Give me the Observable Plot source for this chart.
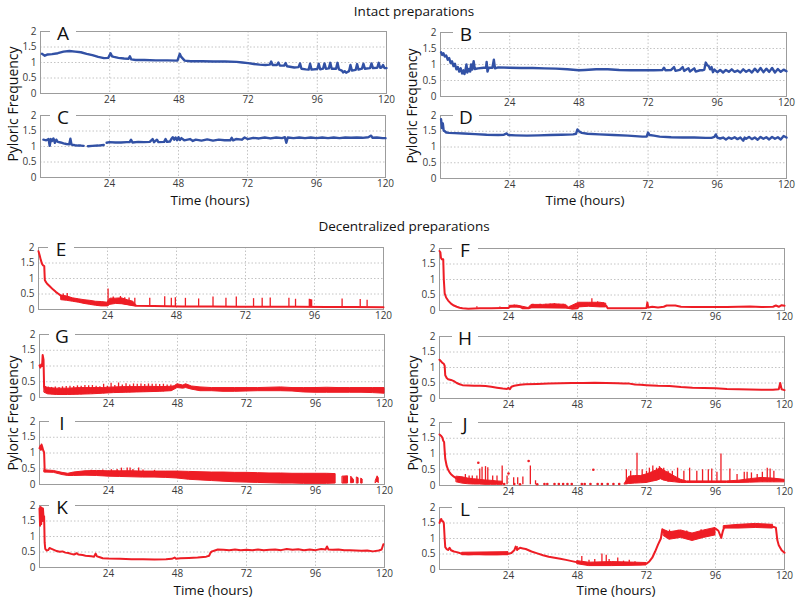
<!DOCTYPE html>
<html><head><meta charset="utf-8">
<script src="https://cdn.jsdelivr.net/npm/d3@7"></script>
<script src="https://cdn.jsdelivr.net/npm/@observablehq/plot@0.6"></script>
<style>
body{margin:0;background:#fff;}
#fig{position:relative;width:800px;height:605px;font-family:"Open Sans",sans-serif;overflow:hidden;background:#fff}
#fig svg{position:absolute;overflow:visible}
.title{position:absolute;font-size:13.5px;line-height:16px;color:#111;transform:translateX(-50%);white-space:nowrap}
.ylab{position:absolute;font-size:14px;line-height:16px;color:#111;transform:translate(-50%,-50%) rotate(-90deg);white-space:nowrap}
.letter{position:absolute;background:#fff;font-size:19px;color:#111;text-align:center;width:26px;height:19px;line-height:19px}
</style>
</head><body><div id="fig"></div>
<script>
// ---------- tick labels ----------
const xTicks = [24, 48, 72, 96, 120];
const yTicks = [0, 0.5, 1, 1.5, 2];
const xGrid = [24, 48, 72, 96];
const yGrid = [0.5, 1, 1.5];
const panelLetters = ["A","B","C","D","E","F","G","H","I","J","K","L"];

// ---------- intact preparations (hours, frequency) ----------
const seriesA = [[0.5,1.28],[1.5,1.22],[2.5,1.26],[4,1.27],[6,1.3],[8,1.35],[10,1.37],[12,1.35],[14,1.33],[16,1.28],[18,1.24],[20,1.18],[22,1.14],[23.5,1.15],[24.3,1.3],[24.8,1.2],[25.5,1.18],[27,1.15],[29,1.13],[30.5,1.12],[31,1.2],[31.5,1.1],[33,1.08],[36,1.08],[40,1.07],[44,1.07],[47.5,1.06],[48.3,1.28],[48.8,1.18],[50,1.06],[52,1.04],[56,1.04],[60,1.03],[64,1.03],[68,1.02],[70,1.0],[72,0.98],[74,0.95],[76,0.93],[78,0.92],[79.5,0.93],[80,1.03],[80.5,0.92],[82,0.92],[82.5,1.0],[83,0.9],[84.5,0.9],[85,0.98],[85.5,0.88],[88,0.84],[89.5,0.85],[90,0.97],[90.5,0.8],[92,0.78],[93,0.77],[93.5,0.96],[94,0.77],[96,0.79],[96.5,0.96],[97,0.78],[98,0.8],[98.5,0.97],[99,0.8],[100,0.81],[100.5,0.99],[101,0.8],[102.5,0.8],[103,0.99],[103.5,0.78],[104.5,0.74],[105,0.68],[105.5,0.72],[106,0.67],[107,0.72],[107.5,0.92],[108,0.74],[109.3,0.76],[109.8,0.95],[110.3,0.77],[111.5,0.8],[112,0.96],[112.5,0.8],[114.3,0.82],[114.8,0.97],[115.3,0.82],[116.8,0.83],[117.3,0.99],[117.8,0.83],[118.3,0.84],[118.8,0.92],[119.3,0.82],[120,0.82]];
const seriesB = [[0.2,1.38],[0.6,1.3],[1,1.35],[1.5,1.25],[2,1.28],[2.5,1.15],[3,1.2],[3.5,1.05],[4,1.1],[4.5,0.95],[5,1.02],[5.5,0.85],[6,0.92],[6.5,0.78],[7,0.88],[7.5,0.72],[8,0.82],[8.3,0.7],[8.7,0.85],[9,1.0],[9.3,0.75],[9.8,0.86],[10.3,0.78],[10.6,1.0],[11,0.84],[11.5,1.1],[11.9,0.86],[13,0.88],[15,0.9],[15.8,0.9],[16,1.08],[16.3,0.78],[16.7,0.9],[18,0.9],[18.5,1.15],[18.9,0.88],[20,0.91],[24,0.9],[28,0.89],[32,0.89],[36,0.88],[40,0.87],[44,0.85],[48,0.82],[50,0.83],[54,0.85],[58,0.85],[62,0.83],[66,0.82],[70,0.82],[74,0.82],[77,0.83],[77.5,0.9],[78,0.82],[80,0.83],[81,0.92],[81.5,0.8],[83,0.83],[84,0.92],[84.5,0.8],[86,0.88],[86.5,0.78],[88,0.88],[88.5,0.78],[90,0.82],[91,0.82],[91.5,0.84],[92,1.06],[92.5,0.98],[93,0.95],[93.5,0.85],[94,0.92],[94.5,0.76],[95,0.84],[96,0.76],[97,0.83],[98,0.75],[99,0.83],[100,0.77],[101,0.85],[102,0.77],[103,0.81],[104,0.75],[105,0.85],[106,0.77],[107,0.83],[108,0.75],[109,0.87],[110,0.77],[111,0.89],[112,0.76],[113,0.87],[114,0.77],[115,0.89],[116,0.75],[117,0.86],[118,0.77],[119,0.84],[120,0.79]];
const seriesC = [[1,1.22],[2,1.2],[2.8,1.24],[3.2,1.02],[3.6,1.24],[4,1.18],[4.5,1.26],[5,1.12],[5.5,1.22],[6,1.15],[7,1.13],[8,1.1],[9,1.08],[10,1.07],[10.4,1.25],[10.8,1.06],[12,1.04],[13,1.03],[14,1.03],[15,1.02],[15.5,NaN],[16.5,1.01],[18,1.02],[20,1.03],[22,1.05],[22.5,NaN],[23,1.12],[24,1.14],[26,1.13],[28,1.13],[30,1.14],[31,1.14],[31.5,1.22],[32,1.13],[34,1.15],[36,1.14],[38,1.15],[39,1.24],[39.5,1.14],[40.5,1.22],[41,1.14],[43,1.15],[43.5,1.24],[44,1.15],[45,1.16],[45.5,1.24],[46,1.3],[46.5,1.22],[47,1.29],[47.5,1.2],[48,1.3],[48.5,1.21],[49,1.27],[50,1.2],[52,1.24],[53,1.18],[54,1.22],[56,1.19],[58,1.23],[60,1.19],[62,1.22],[64,1.2],[66,1.2],[66.5,1.28],[67,1.2],[68,1.24],[70,1.22],[71,1.29],[72,1.24],[74,1.28],[76,1.26],[78,1.29],[80,1.26],[82,1.29],[84,1.27],[85,1.3],[85.5,1.12],[86,1.29],[88,1.27],[90,1.29],[92,1.27],[94,1.29],[96,1.27],[98,1.29],[100,1.27],[102,1.29],[104,1.27],[106,1.29],[108,1.28],[110,1.29],[112,1.28],[114,1.3],[115,1.35],[115.5,1.28],[117,1.29],[119,1.27],[120,1.27]];
const seriesD = [[0.2,1.88],[0.5,1.6],[0.8,1.75],[1.1,1.52],[1.5,1.5],[2,1.46],[3,1.45],[5,1.44],[8,1.43],[12,1.41],[16,1.39],[20,1.38],[22,1.39],[23,1.43],[23.5,1.38],[26,1.37],[30,1.36],[34,1.37],[38,1.38],[42,1.39],[46,1.4],[47,1.42],[47.5,1.56],[48,1.5],[49,1.45],[51,1.42],[55,1.4],[60,1.38],[65,1.36],[70,1.33],[71.5,1.33],[72,1.46],[72.5,1.38],[74,1.36],[76,1.33],[80,1.31],[84,1.3],[88,1.3],[92,1.29],[94,1.29],[95,1.32],[95.5,1.4],[96,1.3],[97,1.27],[98,1.3],[99,1.24],[100,1.3],[101,1.26],[102,1.31],[103,1.25],[104,1.3],[105,1.2],[105.5,1.3],[106,1.26],[107,1.32],[108,1.25],[109,1.3],[110,1.23],[111,1.32],[112,1.26],[113,1.31],[114,1.24],[115,1.32],[116,1.26],[117,1.31],[118,1.24],[119,1.35],[120,1.3]];

// ---------- decentralized preparations ----------
// line: [hours, frequency]; band: [hours, low, high]; spikes: [hours, low, high]; dots: [hours, frequency]
const seriesE = [[0,1.88],[0.4,1.75],[0.8,1.6],[1.2,1.48],[1.6,1.42],[2,1.4],[2.2,0.95],[2.6,0.88],[3,0.83],[4,0.74],[5,0.65],[6,0.57],[7,0.5],[8,0.43],[9,0.38],[10,0.36],[12,0.32],[14,0.28],[16,0.24],[18,0.2],[20,0.18],[22,0.16],[23.5,0.16],[24,0.14],[24.5,0.2],[26,0.25],[28,0.24],[30,0.2],[32,0.15],[34,0.12],[40,0.11],[50,0.1],[60,0.1],[70,0.09],[80,0.09],[90,0.09],[100,0.08],[110,0.08],[120,0.07]];
const bandE = [[8,0.3,0.45],[10,0.28,0.42],[12,0.25,0.36],[14,0.22,0.33],[16,0.18,0.3],[18,0.15,0.28],[20,0.12,0.25],[22,0.1,0.24],[24,0.1,0.22],[25,0.15,0.35],[27,0.18,0.35],[29,0.17,0.36],[31,0.14,0.3],[33,0.12,0.25],[34,0.1,0.14]];
const spikesE = [[8.6,0.35,0.5],[10,0.32,0.52],[24.2,0.14,0.66],[26,0.25,0.4],[28.5,0.24,0.42],[30,0.2,0.38],[31.5,0.17,0.37],[33.5,0.12,0.36],[38.7,0.11,0.36],[43.9,0.1,0.41],[46.2,0.1,0.36],[47.6,0.1,0.38],[51.1,0.1,0.36],[55.7,0.1,0.34],[60.7,0.1,0.4],[65.2,0.1,0.36],[68.8,0.09,0.4],[74.8,0.09,0.35],[77.8,0.09,0.36],[80.6,0.09,0.37],[87.1,0.09,0.36],[89.4,0.09,0.33],[94.2,0.09,0.33],[94.6,0.09,0.32],[95,0.09,0.31],[105.6,0.08,0.34],[111.9,0.08,0.32],[114.3,0.08,0.3]];

const seriesF = [[0,1.92],[0.3,1.88],[0.5,1.7],[0.8,1.65],[1.3,1.65],[1.5,1.0],[1.8,0.55],[2.3,0.42],[3,0.32],[4,0.22],[5,0.16],[6,0.12],[7,0.09],[8,0.07],[10,0.06],[14,0.07],[18,0.07],[22,0.08],[24,0.08],[24.5,0.12],[26,0.14],[28,0.12],[29,0.07],[31,0.07],[32,0.12],[44,0.1],[46,0.06],[48,0.07],[48.5,0.15],[50,0.18],[52,0.2],[54,0.2],[56,0.18],[58,0.15],[58.5,0.07],[62,0.07],[66,0.07],[70,0.07],[72,0.08],[72.3,0.26],[72.6,0.1],[74,0.12],[76,0.1],[78,0.12],[79,0.16],[82,0.16],[84,0.12],[88,0.11],[92,0.11],[96,0.11],[100,0.11],[104,0.12],[108,0.13],[112,0.11],[116,0.12],[117,0.16],[118,0.12],[119,0.17],[120,0.15]];
const bandF = [[24.5,0.1,0.15],[27,0.1,0.16],[29,0.08,0.12],[31,0.07,0.08],[32,0.07,0.18],[36,0.07,0.18],[40,0.07,0.2],[44,0.07,0.18],[45,0.06,0.1],[48.5,0.1,0.25],[52,0.12,0.25],[56,0.1,0.25],[58,0.1,0.22]];
const spikesF = [[13,0.07,0.12],[21,0.08,0.11],[26,0.12,0.18],[32.5,0.1,0.2],[35,0.08,0.2],[37,0.08,0.2],[38.5,0.08,0.21],[40,0.08,0.22],[41.5,0.08,0.2],[43,0.08,0.2],[53,0.18,0.38],[55,0.15,0.28],[57,0.12,0.25]];

const seriesG = [[0,1.02],[0.3,0.95],[0.6,1.05],[0.9,1.0],[1.1,1.35],[1.4,1.2],[1.6,0.35],[2,0.25],[3,0.2]];
const bandG = [[1.8,0.15,0.35],[3,0.1,0.3],[6,0.08,0.28],[10,0.08,0.28],[14,0.09,0.3],[18,0.1,0.3],[22,0.12,0.3],[26,0.14,0.32],[30,0.15,0.33],[34,0.16,0.33],[38,0.17,0.34],[42,0.18,0.33],[46,0.2,0.34],[47,0.25,0.36],[48,0.3,0.42],[50,0.28,0.38],[51,0.3,0.42],[53,0.25,0.35],[56,0.2,0.32],[60,0.2,0.3],[64,0.18,0.3],[68,0.18,0.3],[72,0.19,0.3],[76,0.2,0.3],[80,0.2,0.31],[84,0.2,0.32],[88,0.19,0.3],[92,0.16,0.3],[96,0.15,0.3],[100,0.15,0.31],[104,0.15,0.3],[108,0.15,0.3],[112,0.15,0.3],[116,0.14,0.3],[120,0.12,0.3]];
const spikesG = [[3,0.1,0.33],[4.2,0.09,0.32],[5.5,0.09,0.33],[6.8,0.08,0.32],[8,0.08,0.34],[9.3,0.08,0.35],[10.6,0.08,0.36],[11.9,0.09,0.35],[13.2,0.09,0.37],[14.5,0.09,0.36],[15.8,0.1,0.38],[17.1,0.1,0.37],[18.4,0.1,0.38],[19.7,0.11,0.36],[21,0.12,0.34],[22.3,0.12,0.42],[23.6,0.13,0.36],[24.9,0.13,0.45],[26.2,0.14,0.38],[27.5,0.14,0.46],[28.8,0.15,0.4],[30.1,0.15,0.44],[31.4,0.15,0.4],[32.7,0.16,0.43],[34,0.16,0.42],[35.3,0.16,0.43],[36.6,0.17,0.41],[37.9,0.17,0.43],[39.2,0.17,0.42],[40.5,0.18,0.42],[41.8,0.18,0.41],[43.1,0.18,0.42],[44.4,0.19,0.4],[45.7,0.2,0.4]];

const seriesH = [[0,1.25],[0.5,1.2],[1,1.15],[1.5,1.12],[1.8,1.05],[2,0.75],[2.5,0.66],[3,0.62],[4,0.6],[5,0.56],[6,0.5],[7,0.46],[8,0.43],[10,0.42],[12,0.41],[14,0.41],[16,0.4],[18,0.38],[20,0.35],[22,0.32],[23.5,0.31],[24,0.34],[24.5,0.3],[25,0.38],[26,0.41],[28,0.44],[30,0.46],[34,0.47],[38,0.48],[42,0.49],[46,0.5],[50,0.5],[54,0.51],[58,0.5],[62,0.49],[64,0.48],[66,0.48],[68,0.45],[70,0.44],[72,0.43],[76,0.41],[80,0.4],[84,0.37],[88,0.35],[92,0.34],[96,0.33],[100,0.31],[104,0.3],[108,0.29],[112,0.28],[116,0.28],[118,0.3],[118.5,0.5],[119,0.3],[120,0.27]];

const seriesI = [[0,1.15],[0.3,1.22],[0.5,1.1],[0.7,1.27],[1,1.18],[1.3,1.08],[1.6,1.02],[1.8,0.45],[2,0.42]];
const bandI = [[1.8,0.38,0.45],[5,0.37,0.43],[8,0.3,0.37],[10,0.27,0.34],[12,0.27,0.38],[16,0.28,0.42],[20,0.27,0.43],[24,0.25,0.42],[28,0.24,0.42],[32,0.23,0.42],[36,0.22,0.41],[40,0.22,0.41],[44,0.21,0.41],[48,0.19,0.41],[52,0.15,0.4],[56,0.13,0.39],[60,0.11,0.38],[64,0.09,0.38],[68,0.07,0.37],[72,0.06,0.37],[76,0.05,0.36],[80,0.04,0.35],[84,0.03,0.35],[88,0.03,0.34],[92,0.02,0.34],[96,0.02,0.34],[100,0.02,0.34],[103,0.03,0.33],[103.2,NaN,NaN],[105.5,0.03,0.25],[107.3,0.03,0.26],[107.5,NaN,NaN],[108.5,0.04,0.24],[109.4,0.05,0.14],[109.6,NaN,NaN],[110.5,0.03,0.22],[111,0.03,0.2],[111.2,NaN,NaN],[112,0.03,0.18],[112.4,0.03,0.16],[112.6,NaN,NaN],[117,0.04,0.12],[117.6,0.1,0.26],[118,0.04,0.2],[118.3,NaN,NaN]];
const spikesI = [[18,0.4,0.45],[22,0.4,0.46],[25,0.4,0.47],[27,0.4,0.48],[28.5,0.4,0.52],[30.5,0.4,0.52],[31.5,0.4,0.52],[32.5,0.4,0.48],[34.5,0.4,0.52],[36,0.4,0.46],[40,0.4,0.45]];

const seriesJ = [[0,1.62],[0.5,1.58],[1,1.52],[1.3,1.42],[1.6,1.38],[1.8,1.1],[2,0.85],[2.5,0.62],[3,0.5],[3.5,0.42],[4,0.36],[5,0.28],[6,0.22]];
const bandJ = [[6,0.1,0.28],[8,0.06,0.26],[10,0.04,0.22],[12,0.03,0.2],[14,0.03,0.18],[16,0.02,0.16],[18,0.02,0.15],[20,0.02,0.13],[22,0.02,0.12],[22.3,NaN,NaN],[64.5,0.03,0.06],[66,0.05,0.28],[68,0.06,0.3],[70,0.07,0.3],[72,0.08,0.35],[74,0.12,0.42],[76,0.16,0.5],[77,0.2,0.55],[78,0.16,0.48],[80,0.12,0.38],[82,0.1,0.28],[84,0.08,0.18],[86,0.08,0.13],[100,0.08,0.13],[104,0.08,0.15],[108,0.09,0.2],[112,0.1,0.24],[116,0.1,0.22],[120,0.1,0.18]];
const spikesJ = [[9,0.05,0.35],[10.3,0.05,0.3],[11.4,0.04,0.3],[13,0.04,0.3],[14,0.03,0.52],[14.8,0.03,0.58],[16,0.03,0.6],[16.8,0.03,0.56],[18.5,0.03,0.3],[20,0.02,0.3],[21.8,0.02,0.62],[23.5,0.02,0.3],[25.8,0.02,0.25],[27.2,0.02,0.25],[29,0.02,0.27],[31.6,0.02,0.62],[33.4,0.02,0.15],[65,0.03,0.5],[66.5,0.05,0.45],[68.7,0.08,1.02],[70.5,0.08,0.5],[72,0.1,0.45],[73,0.1,0.55],[74.2,0.15,0.62],[75.5,0.15,0.55],[76.5,0.2,0.6],[78,0.15,0.55],[79.5,0.1,0.45],[81,0.1,0.45],[82.8,0.1,0.55],[85,0.1,0.45],[87,0.1,0.55],[89.5,0.1,0.45],[91.5,0.1,0.5],[93.5,0.1,0.5],[94.7,0.1,0.52],[96.5,0.1,0.42],[97.9,0.1,1.0],[101,0.1,0.52],[103.5,0.1,0.35],[106,0.1,0.42],[107,0.1,0.42],[108.5,0.1,0.4],[110.5,0.1,0.35],[112.3,0.1,0.42],[114,0.1,0.55],[115,0.1,0.52],[116.3,0.1,0.45]];
const dotsJ = [[13.5,0.72],[24,0.38],[31,0.78],[53.5,0.5],[22.5,0.05],[26,0.05],[28,0.04],[34,0.04],[36.5,0.05],[37.5,0.05],[40,0.05],[41.5,0.05],[43,0.05],[44.5,0.05],[46,0.05],[49.5,0.05],[50.5,0.05],[52.5,0.05],[55,0.05],[56.5,0.05],[58.5,0.05],[60.5,0.05],[62.5,0.05]];

const seriesK = [[0,1.9],[0.2,1.35],[0.4,1.95],[0.6,1.4],[0.8,1.92],[1,1.5],[1.2,1.9],[1.4,1.62],[1.6,1.65],[1.8,0.8],[2,0.6],[2.5,0.55],[3,0.56],[3.5,0.63],[4,0.61],[5,0.57],[6,0.53],[7,0.51],[8,0.52],[9,0.48],[10,0.47],[11,0.44],[12,0.42],[13,0.46],[13.5,0.42],[15,0.4],[16,0.38],[17,0.37],[18,0.36],[19,0.35],[19.5,0.45],[20,0.36],[21,0.33],[22,0.3],[24,0.29],[28,0.28],[32,0.27],[36,0.27],[40,0.26],[44,0.27],[46,0.28],[47,0.32],[47.5,0.28],[49,0.3],[52,0.31],[55,0.32],[58,0.35],[59,0.38],[59.5,0.48],[60,0.52],[61,0.55],[62,0.58],[64,0.57],[66,0.56],[68,0.58],[70,0.56],[72,0.57],[74,0.56],[76,0.58],[78,0.56],[80,0.57],[82,0.58],[84,0.56],[86,0.6],[88,0.57],[90,0.59],[92,0.56],[94,0.58],[96,0.56],[98,0.6],[99.5,0.58],[100,0.68],[100.5,0.58],[102,0.57],[104,0.58],[106,0.56],[108,0.56],[110,0.55],[112,0.54],[114,0.55],[116,0.52],[118,0.55],[119,0.58],[119.6,0.75]];

const seriesL = [[0,1.5],[0.3,1.6],[0.6,1.63],[0.9,1.56],[1.2,1.56],[1.5,1.5],[1.8,1.0],[2,0.72],[2.5,0.66],[3,0.63],[3.5,0.7],[4,0.62],[5,0.58],[6,0.56],[7,0.53],[8,0.51],[10,0.49],[12,0.5],[14,0.5],[16,0.49],[18,0.5],[20,0.49],[22,0.5],[24,0.51],[25,0.53],[26,0.62],[26.5,0.74],[27,0.64],[28,0.7],[29,0.68],[30,0.66],[31,0.62],[32,0.58],[34,0.52],[36,0.46],[38,0.41],[40,0.38],[42,0.35],[44,0.31],[46,0.27],[48,0.23],[50,0.19],[52,0.16],[54,0.16],[56,0.17],[58,0.16],[60,0.17],[62,0.16],[64,0.17],[66,0.16],[68,0.17],[70,0.17],[72,0.19],[73,0.26],[74,0.38],[75,0.58],[76,0.8],[77,1.0],[77.5,1.3],[78,1.2],[79,1.15],[80,1.08],[82,1.12],[84,1.18],[85,1.08],[86,1.02],[88,1.04],[90,1.12],[92,1.18],[94,1.25],[96,1.32],[97,1.25],[98,1.02],[98.5,1.22],[99,1.36],[100,1.38],[104,1.38],[108,1.4],[110,1.43],[112,1.4],[114,1.39],[116,1.38],[117,1.35],[117.5,0.95],[118,0.78],[119,0.62],[120,0.54]];
const bandL = [[8,0.46,0.54],[24,0.46,0.56],[24.5,NaN,NaN],[48,0.17,0.27],[52,0.11,0.22],[60,0.11,0.24],[72,0.13,0.21],[72.5,NaN,NaN],[78,1.08,1.28],[80,0.96,1.2],[84,1.02,1.26],[88,0.92,1.16],[92,1.02,1.26],[96,1.1,1.34],[97.5,NaN,NaN],[99,1.32,1.4],[104,1.32,1.44],[110,1.34,1.47],[116,1.32,1.44],[116.5,NaN,NaN]];
const spikesL = [[27,0.58,0.74],[49.5,0.17,0.42],[52,0.14,0.3],[54,0.14,0.32],[56.5,0.14,0.5],[58,0.15,0.46],[59,0.14,0.32],[62,0.15,0.37],[64,0.15,0.27],[66,0.14,0.3],[68,0.15,0.25],[80,1.1,1.27],[83,1.1,1.27],[86,1.0,1.24],[91,1.1,1.28]];

// ---------- styling ----------
const BLUE = "#3251a5", RED = "#ee1d25";
const fig = document.getElementById("fig");

const panels = [
  {id:"A", line:seriesA, color:BLUE, box:[40,386,31,93], col:0},
  {id:"B", line:seriesB, color:BLUE, box:[440,786,32,96], col:1},
  {id:"C", line:seriesC, color:BLUE, box:[40,385,115,177], col:0},
  {id:"D", line:seriesD, color:BLUE, box:[440,786,115,178], col:1},
  {id:"E", line:seriesE, band:bandE, spikes:spikesE, color:RED, box:[38,383,247,309], col:0},
  {id:"F", line:seriesF, band:bandF, spikes:spikesF, color:RED, box:[439,784,248,310], col:1},
  {id:"G", line:seriesG, band:bandG, spikes:spikesG, color:RED, box:[39,384,334,397], col:0},
  {id:"H", line:seriesH, color:RED, box:[439,784,336,398], col:1},
  {id:"I", line:seriesI, band:bandI, spikes:spikesI, color:RED, box:[39,384,421,484], col:0},
  {id:"J", line:seriesJ, band:bandJ, spikes:spikesJ, dots:dotsJ, color:RED, box:[439,784,422,485], col:1},
  {id:"K", line:seriesK, color:RED, box:[39,384,505,567], col:0},
  {id:"L", line:seriesL, band:bandL, spikes:spikesL, color:RED, box:[439,784,507,569], col:1}
];

const ML = 30, MR = 14, MT = 7, MB = 16;
panels.forEach((p, i) => {
  const [l, r, t, b] = p.box;
  const marks = [
    Plot.gridX(xGrid, {stroke:"#c4c4c4", strokeOpacity:1, strokeDasharray:"1.5,2"}),
    Plot.gridY(yGrid, {stroke:"#c4c4c4", strokeOpacity:1, strokeDasharray:"1.5,2"}),
    Plot.frame({stroke:"#9c9c9c"}),
    Plot.axisX(xTicks, {tickSize:0, tickPadding:2, fontSize:10, color:"#3a3a3a", label:null}),
    Plot.axisY(yTicks, {tickSize:0, tickPadding:4, fontSize:10, color:"#3a3a3a", label:null, tickFormat:d => String(d)})
  ];
  if (p.band) marks.push(Plot.areaY(p.band, {x:d=>d[0], y1:d=>d[1], y2:d=>d[2], fill:p.color, stroke:p.color, strokeWidth:1}));
  if (p.spikes) marks.push(Plot.ruleX(p.spikes, {x:d=>d[0], y1:d=>d[1], y2:d=>d[2], stroke:p.color, strokeWidth:1.3}));
  if (p.dots) marks.push(Plot.dot(p.dots, {x:d=>d[0], y:d=>d[1], r:1.3, fill:p.color, stroke:null}));
  marks.push(Plot.line(p.line, {x:d=>d[0], y:d=>d[1], stroke:p.color, strokeWidth:p.color===BLUE?2.4:2, strokeLinejoin:"round"}));
  const svg = Plot.plot({
    width: (r - l) + ML + MR,
    height: (b - t) + MT + MB,
    marginLeft: ML, marginRight: MR, marginTop: MT, marginBottom: MB,
    x: {domain:[0,120]},
    y: {domain:[0,2]},
    style: {fontFamily:"'Open Sans', sans-serif", background:"transparent", overflow:"visible"},
    marks
  });
  svg.style.left = (l - ML) + "px";
  svg.style.top = (t - MT) + "px";
  fig.appendChild(svg);

  const letter = document.createElement("div");
  letter.className = "letter";
  letter.textContent = panelLetters[i];
  letter.style.left = (l + (p.col === 0 ? 10 : 13)) + "px";
  letter.style.top = (t - 7) + "px";
  fig.appendChild(letter);
});

function addText(cls, text, x, y) {
  const d = document.createElement("div");
  d.className = cls;
  d.textContent = text;
  d.style.left = x + "px";
  d.style.top = y + "px";
  fig.appendChild(d);
}
addText("title", "Intact preparations", 414, 3);
addText("title", "Decentralized preparations", 404, 218);
addText("title", "Time (hours)", 210, 192);
addText("title", "Time (hours)", 585, 192);
addText("title", "Time (hours)", 213, 582);
addText("title", "Time (hours)", 616, 582);
addText("ylab", "Pyloric Frequency", 13, 104);
addText("ylab", "Pyloric Frequency", 412, 106);
addText("ylab", "Pyloric Frequency", 13, 413);
addText("ylab", "Pyloric Frequency", 413, 413);
</script>
</body></html>
